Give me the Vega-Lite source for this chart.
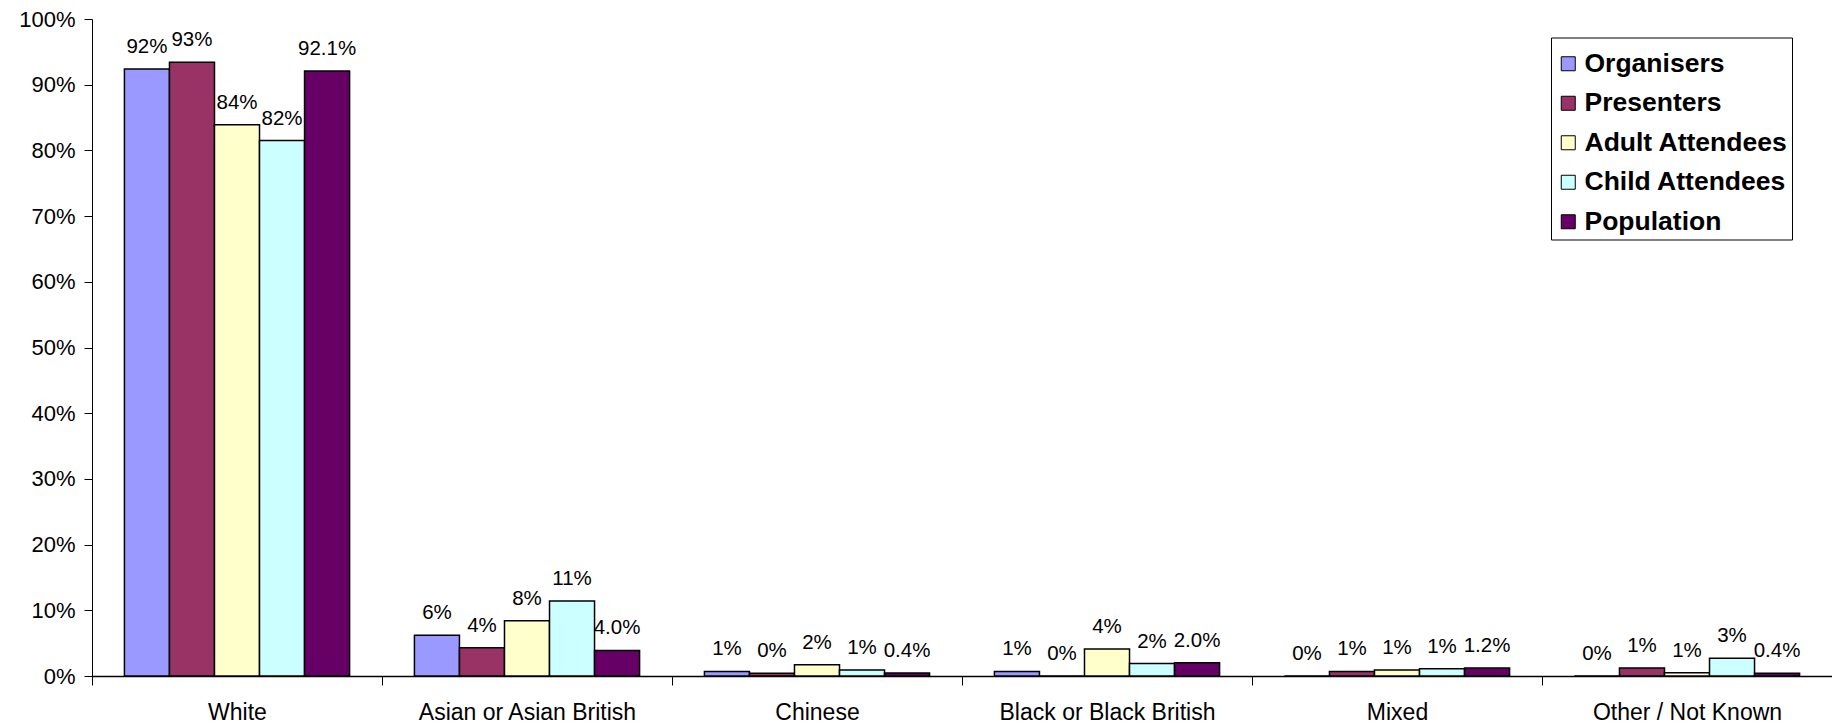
{
  "$schema": "https://vega.github.io/schema/vega-lite/v6.json",
  "autosize": {"type": "none"},
  "width": 1740,
  "height": 657,
  "padding": {"left": 92, "top": 19, "right": 0, "bottom": 52},
  "background": "white",
  "config": {
    "view": {"stroke": null},
    "font": "Liberation Sans"
  },
  "data": {
    "values": [
      {"group": "White", "series": "Organisers", "value": 0.924, "label": "92%"},
      {"group": "White", "series": "Presenters", "value": 0.934, "label": "93%"},
      {"group": "White", "series": "Adult Attendees", "value": 0.839, "label": "84%"},
      {"group": "White", "series": "Child Attendees", "value": 0.815, "label": "82%"},
      {"group": "White", "series": "Population", "value": 0.921, "label": "92.1%"},
      {"group": "Asian or Asian British", "series": "Organisers", "value": 0.062, "label": "6%"},
      {"group": "Asian or Asian British", "series": "Presenters", "value": 0.043, "label": "4%"},
      {"group": "Asian or Asian British", "series": "Adult Attendees", "value": 0.084, "label": "8%"},
      {"group": "Asian or Asian British", "series": "Child Attendees", "value": 0.114, "label": "11%"},
      {"group": "Asian or Asian British", "series": "Population", "value": 0.039, "label": "4.0%"},
      {"group": "Chinese", "series": "Organisers", "value": 0.007, "label": "1%"},
      {"group": "Chinese", "series": "Presenters", "value": 0.004, "label": "0%"},
      {"group": "Chinese", "series": "Adult Attendees", "value": 0.017, "label": "2%"},
      {"group": "Chinese", "series": "Child Attendees", "value": 0.009, "label": "1%"},
      {"group": "Chinese", "series": "Population", "value": 0.0045, "label": "0.4%"},
      {"group": "Black or Black British", "series": "Organisers", "value": 0.007, "label": "1%"},
      {"group": "Black or Black British", "series": "Presenters", "value": 0.0, "label": "0%"},
      {"group": "Black or Black British", "series": "Adult Attendees", "value": 0.041, "label": "4%"},
      {"group": "Black or Black British", "series": "Child Attendees", "value": 0.019, "label": "2%"},
      {"group": "Black or Black British", "series": "Population", "value": 0.02, "label": "2.0%"},
      {"group": "Mixed", "series": "Organisers", "value": 0.0, "label": "0%"},
      {"group": "Mixed", "series": "Presenters", "value": 0.007, "label": "1%"},
      {"group": "Mixed", "series": "Adult Attendees", "value": 0.009, "label": "1%"},
      {"group": "Mixed", "series": "Child Attendees", "value": 0.011, "label": "1%"},
      {"group": "Mixed", "series": "Population", "value": 0.012, "label": "1.2%"},
      {"group": "Other / Not Known", "series": "Organisers", "value": 0.0, "label": "0%"},
      {"group": "Other / Not Known", "series": "Presenters", "value": 0.012, "label": "1%"},
      {"group": "Other / Not Known", "series": "Adult Attendees", "value": 0.005, "label": "1%"},
      {"group": "Other / Not Known", "series": "Child Attendees", "value": 0.027, "label": "3%"},
      {"group": "Other / Not Known", "series": "Population", "value": 0.004, "label": "0.4%"}
    ]
  },
  "encoding": {
    "x": {
      "field": "group",
      "type": "nominal",
      "sort": null,
      "scale": {"paddingInner": 0, "paddingOuter": 0},
      "axis": {
        "title": null,
        "labelAngle": 0,
        "labelFont": "Liberation Sans",
        "labelFontSize": 23,
        "labelColor": "black",
        "labelPadding": 16,
        "labelLimit": 0,
        "tickBand": "extent",
        "tickSize": 9,
        "tickColor": "black",
        "domainColor": "black",
        "domainWidth": 1.5,
        "grid": false
      }
    },
    "xOffset": {
      "field": "series",
      "type": "nominal",
      "sort": ["Organisers", "Presenters", "Adult Attendees", "Child Attendees", "Population"],
      "scale": {"paddingInner": 0, "paddingOuter": 0.72}
    },
    "y": {
      "field": "value",
      "type": "quantitative",
      "scale": {"domain": [0, 1], "nice": false},
      "axis": {
        "title": null,
        "values": [0, 0.1, 0.2, 0.3, 0.4, 0.5, 0.6, 0.7, 0.8, 0.9, 1],
        "format": ".0%",
        "labelFont": "Liberation Sans",
        "labelFontSize": 22,
        "labelColor": "black",
        "labelPadding": 9,
        "tickSize": 8,
        "tickColor": "black",
        "domainColor": "black",
        "grid": false
      }
    }
  },
  "layer": [
    {
      "mark": {"type": "bar", "stroke": "black", "strokeWidth": 1.5},
      "encoding": {
        "color": {
          "field": "series",
          "type": "nominal",
          "sort": ["Organisers", "Presenters", "Adult Attendees", "Child Attendees", "Population"],
          "scale": {
            "domain": ["Organisers", "Presenters", "Adult Attendees", "Child Attendees", "Population"],
            "range": ["#9999FF", "#993366", "#FFFFCC", "#CCFFFF", "#660066"]
          },
          "legend": {
            "title": " ",
            "titleFontSize": 9,
            "titlePadding": 0,
            "orient": "none",
            "legendX": 1459,
            "legendY": 18.5,
            "strokeColor": "black",
            "fillColor": "white",
            "padding": 4,
            "symbolType": "square",
            "symbolSize": 196,
            "symbolStrokeColor": "black",
            "symbolStrokeWidth": 1,
            "symbolOpacity": 1,
            "labelFont": "Liberation Sans",
            "labelFontSize": 26.5,
            "labelFontWeight": "bold",
            "labelColor": "black",
            "labelOffset": 3,
            "rowPadding": 12.5,
            "labelLimit": 400
          }
        }
      }
    },
    {
      "mark": {"type": "text", "dy": -16, "baseline": "alphabetic", "align": "center", "fontSize": 20.5, "font": "Liberation Sans", "color": "black"},
      "encoding": {
        "text": {"field": "label", "type": "nominal"}
      }
    }
  ]
}
